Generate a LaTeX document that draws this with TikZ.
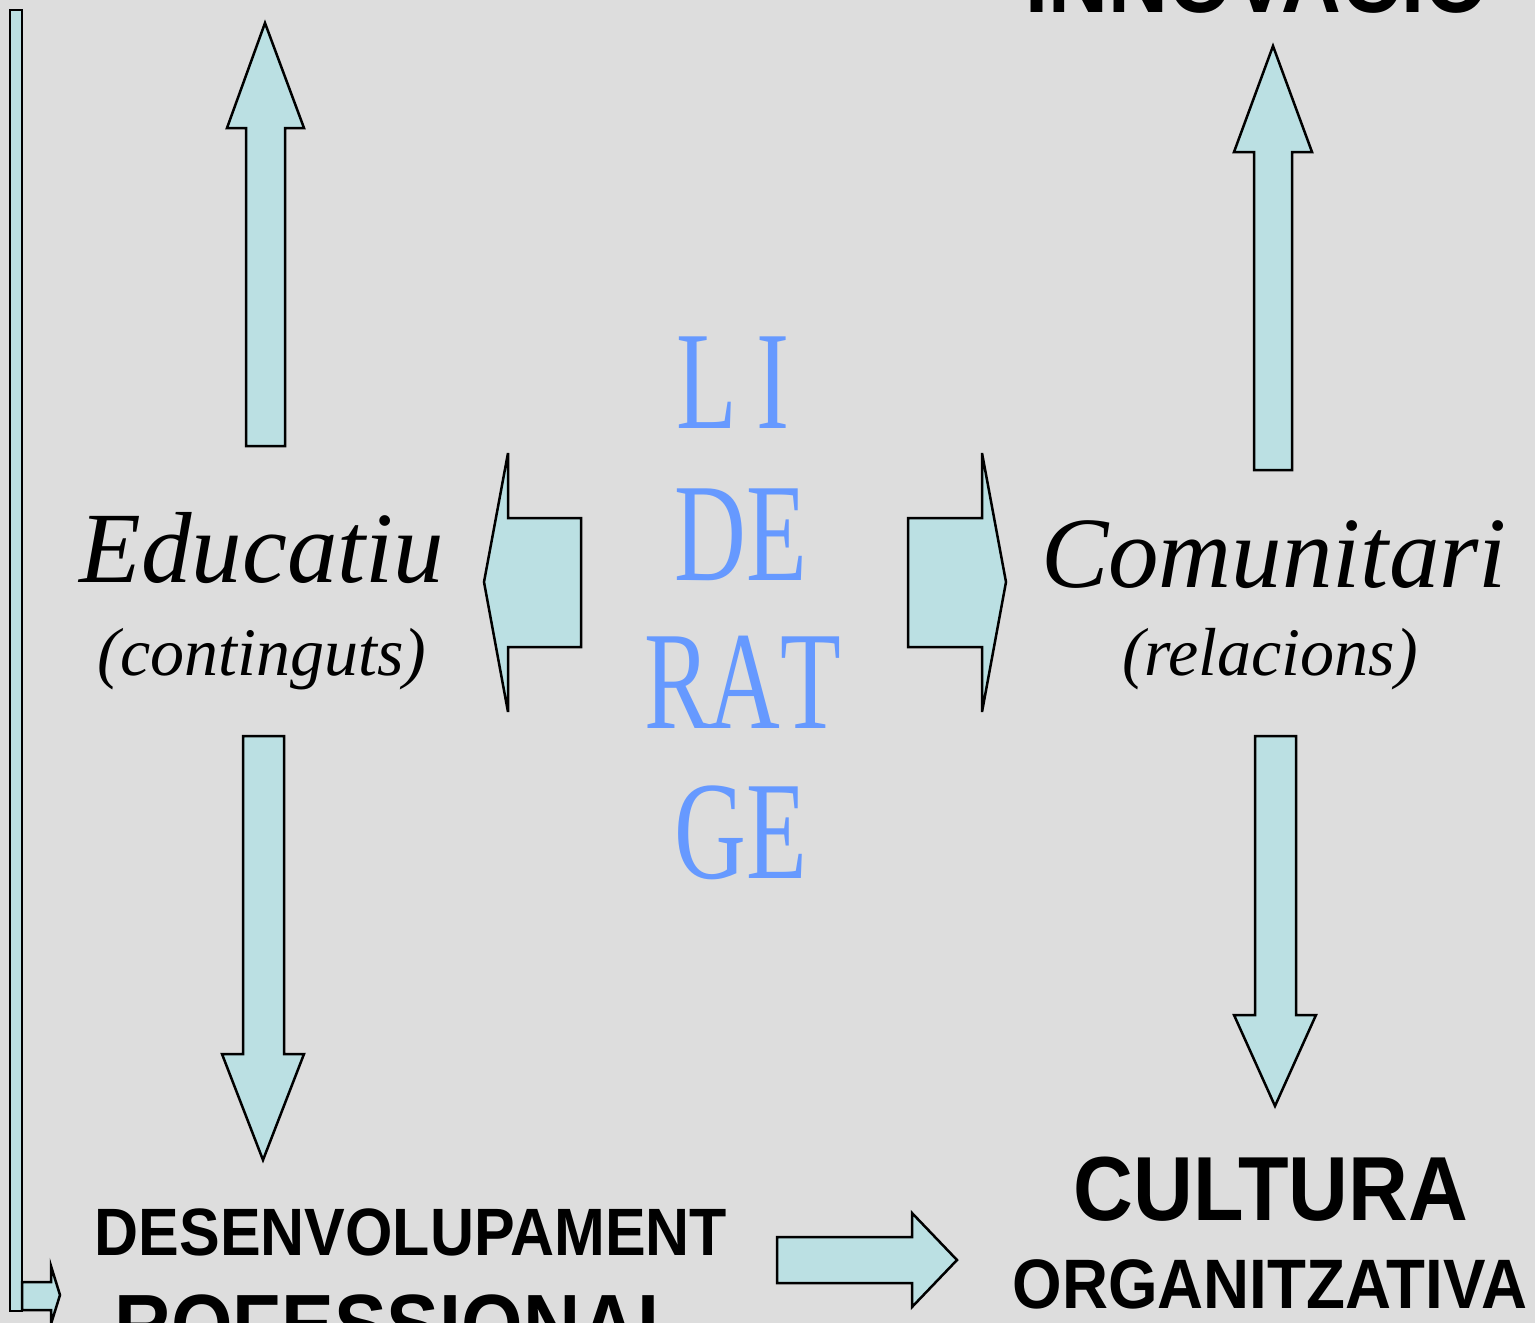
\documentclass[tikz,border=0pt]{standalone}
\usepackage{fontspec}
\newfontfamily\capsfont[FakeStretch=0.91]{Liberation Sans}
\newfontfamily\lidfont[FakeStretch=0.71]{Liberation Serif}
\newfontfamily\italfont{Liberation Serif}
\definecolor{bgcol}{RGB}{221,221,221}
\definecolor{arrowfill}{RGB}{187,224,227}
\definecolor{lidblue}{RGB}{102,153,255}
\newcommand\lidcell[1]{\makebox[66.5pt]{#1}}
\tikzset{
  blockarrow/.style={fill=arrowfill, draw=black, line width=2.5pt, line join=miter},
  capsbig/.style={anchor=base, inner sep=0pt, font=\capsfont\bfseries\fontsize{91}{91}\selectfont},
  capsmid/.style={anchor=base, inner sep=0pt, font=\capsfont\bfseries\fontsize{#1}{#1}\selectfont},
  scriptbig/.style={anchor=base, inner sep=0pt, font=\italfont\itshape\fontsize{101}{101}\selectfont},
  scriptsmall/.style={anchor=base, inner sep=0pt, font=\italfont\itshape\fontsize{68}{68}\selectfont},
  lidline/.style={anchor=base, inner sep=0pt, text=lidblue, font=\lidfont\fontsize{140}{140}\selectfont},
}
\begin{document}
\begin{tikzpicture}[x=1pt, y=-1pt]
\useasboundingbox (0,0) rectangle (1535,1323);
\fill[bgcol] (0,0) rectangle (1535,1323);

% left vertical bar and its small arrow
\draw[blockarrow] (10,10) rectangle (22,1311);
\draw[blockarrow] (22,1282) -- (51,1282) -- (51,1266) -- (60,1295) -- (51,1324)
  -- (51,1310) -- (22,1310) -- cycle;

% up arrow left
\draw[blockarrow] (246,446) -- (246,128) -- (227,128) -- (265,23) -- (304,128)
  -- (285,128) -- (285,446) -- cycle;
% down arrow left
\draw[blockarrow] (243,736) -- (284,736) -- (284,1054) -- (304,1054) -- (263,1160)
  -- (222,1054) -- (243,1054) -- cycle;
% up arrow right
\draw[blockarrow] (1254,470) -- (1254,152) -- (1234,152) -- (1273,46) -- (1312,152)
  -- (1292,152) -- (1292,470) -- cycle;
% down arrow right
\draw[blockarrow] (1255,736) -- (1296,736) -- (1296,1015) -- (1316,1015) -- (1275,1106)
  -- (1234,1015) -- (1255,1015) -- cycle;
% left arrow (centre)
\draw[blockarrow] (581,518) -- (508,518) -- (508,453) -- (484,582) -- (508,712)
  -- (508,647) -- (581,647) -- cycle;
% right arrow (centre)
\draw[blockarrow] (908,518) -- (982,518) -- (982,453) -- (1006,582) -- (982,712)
  -- (982,647) -- (908,647) -- cycle;
% bottom right arrow
\draw[blockarrow] (777,1237) -- (912,1237) -- (912,1213) -- (957,1260) -- (912,1307)
  -- (912,1283) -- (777,1283) -- cycle;

% texts
\node[capsbig] (innov) at (1257,12) {INNOVACIÓ};
\node[scriptbig] (educ) at (262,582) {Educatiu};
\node[scriptsmall] (cont) at (262,675) {(continguts)};
\node[scriptbig] (comu) at (1274,587) {Comunitari};
\node[scriptsmall] (rela) at (1270,675) {(relacions)};

\node[lidline] (lid1) at (740,428) {\lidcell{L}\lidcell{I}};
\node[lidline] (lid2) at (744,580) {\lidcell{D}\lidcell{E}};
\node[lidline] (lid3) at (744,728) {\lidcell{R}\lidcell{A}\lidcell{T}};
\node[lidline] (lid4) at (744,878) {\lidcell{G}\lidcell{E}};

\node[capsmid=67] (desen) at (411,1255) {DESENVOLUPAMENT};
\node[capsmid=87] (prof) at (400,1355) {ROFESSIONAL};
\node[capsbig] (cult) at (1271,1220) {CULTURA};
\node[capsmid=70] (org) at (1270,1308) {ORGANITZATIVA};
\end{tikzpicture}
\end{document}
